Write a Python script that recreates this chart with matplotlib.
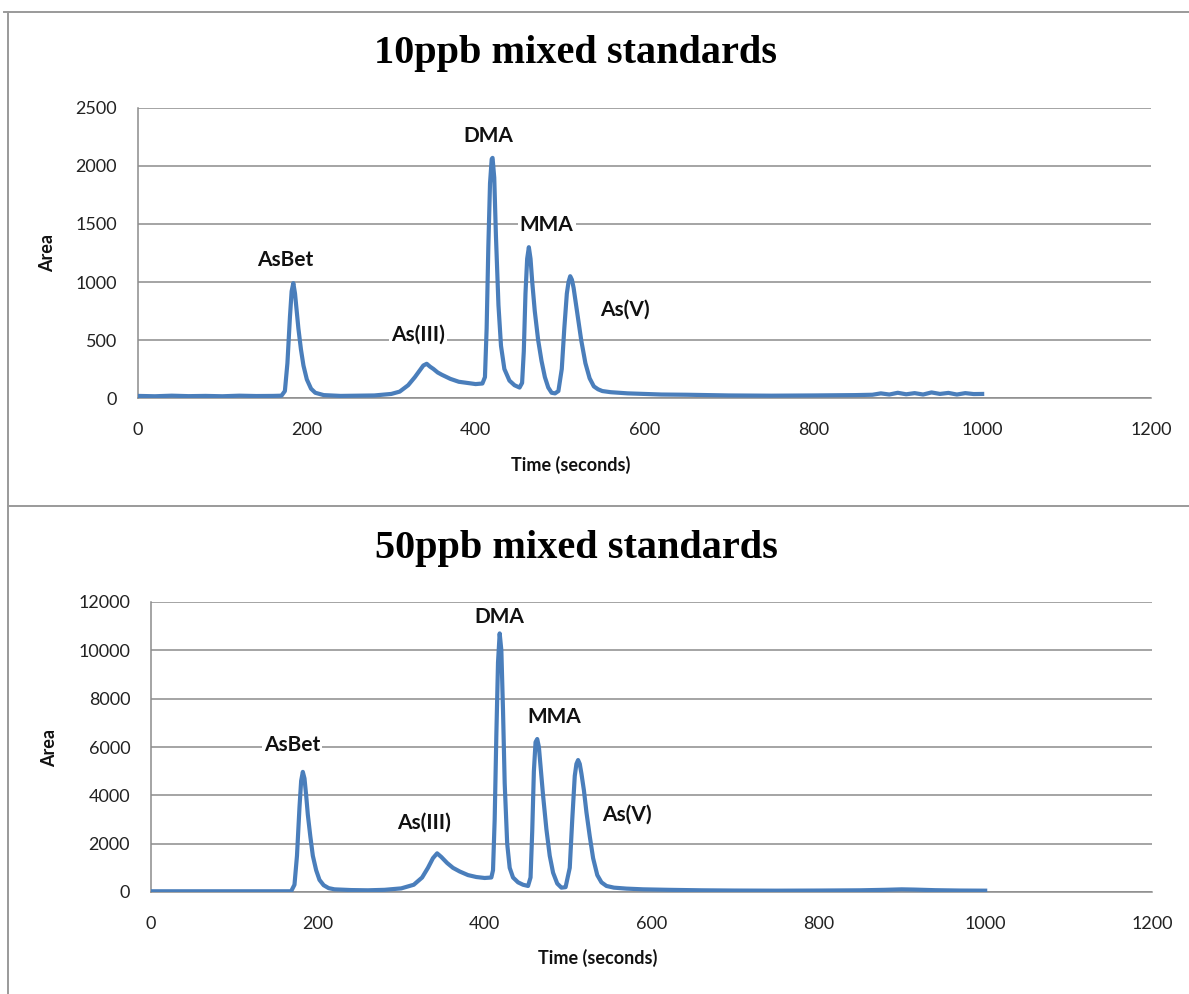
import matplotlib
matplotlib.use("Agg")
import matplotlib.pyplot as plt
from matplotlib.lines import Line2D

W, H = 1189, 994

# 10 ppb run
t10 = [0, 20, 40, 60, 80, 100, 120, 140, 160, 170, 174, 177, 180, 182, 184, 186, 188,
       190, 193, 196, 200, 205, 210, 220, 240, 260, 280, 300, 310, 320, 328, 334, 338,
       342, 346, 350, 355, 360, 370, 380, 390, 400, 408, 411, 413, 415, 417, 419, 420,
       422, 424, 427, 430, 434, 440, 446, 452, 455, 457, 459, 461, 463, 465, 467, 470,
       474, 478, 482, 486, 490, 494, 498, 502, 505, 508, 510, 512, 514, 516, 518, 521,
       525, 530, 535, 540, 545, 550, 560, 570, 580, 600, 620, 650, 700, 750, 800, 850,
       870, 880, 890, 900, 910, 920, 930, 940, 950, 960, 970, 980, 990, 1000]
area10 = [18, 15, 20, 16, 18, 15, 20, 17, 18, 20, 60, 300, 700, 920, 990, 900, 750,
          600, 420, 280, 160, 80, 45, 25, 18, 20, 22, 35, 55, 110, 180, 240, 280,
          295, 270, 250, 220, 200, 165, 140, 130, 120, 125, 180, 600, 1300, 1850, 2060, 2070,
          1900, 1400, 800, 450, 250, 150, 110, 90, 130, 400, 900, 1200, 1300, 1200, 1000, 750,
          500, 320, 180, 90, 45, 40, 60, 250, 600, 900, 1000, 1050, 1020, 950, 850, 700,
          500, 300, 170, 100, 75, 60, 50, 45, 40, 35, 30, 28, 22, 20, 22, 25,
          28, 40, 30, 45, 32, 42, 30, 48, 35, 44, 30, 42, 34, 35]

# 50 ppb run
t50 = [0, 50, 100, 150, 168, 172, 175, 178, 180, 182, 184, 186, 188, 191, 194, 198, 202,
       207, 213, 220, 240, 260, 280, 300, 315, 325, 332, 338, 343, 348, 355, 362, 370,
       380, 390, 400, 408, 410, 412, 414, 416, 418, 420, 422, 424, 427, 430, 434, 440,
       446, 452, 455, 457, 459, 461, 463, 465, 467, 470, 474, 478, 482, 487, 492, 497,
       502, 505, 508, 510, 512, 514, 516, 519, 522, 526, 530, 535, 540, 546, 555, 570,
       590, 620, 660, 700, 750, 800, 850, 880, 900, 915, 940, 970, 1000]
area50 = [30, 30, 30, 30, 30, 300, 1500, 3500, 4600, 4970, 4700, 4000, 3200, 2300, 1500, 900, 500,
          280, 160, 110, 80, 70, 90, 150, 300, 600, 1000, 1400, 1600, 1450, 1200, 1000, 850,
          700, 620, 580, 600, 900, 3000, 6500, 9500, 10700, 10000, 7500, 4500, 2000, 1000, 600, 400,
          300, 250, 600, 2500, 5000, 6200, 6330, 6000, 5200, 4000, 2600, 1500, 800, 350, 180, 200,
          1000, 3000, 4800, 5300, 5460, 5300, 4900, 4200, 3300, 2300, 1400, 700, 400, 250, 180, 140,
          110, 90, 70, 60, 55, 60, 70, 90, 110, 100, 75, 60, 55]

species = ["AsBet", "As(III)", "DMA", "MMA", "As(V)"]
# label anchor points (seconds, area)
lab10_t = [174, 332, 415, 484, 577]
lab10_a = [1190, 550, 2260, 1490, 760]
lab50_t = [169, 327, 418, 483, 571]
lab50_a = [6080, 2855, 11380, 7240, 3190]

blue = "#4A7EBB"
grid = "#8C8C8C"

plt.rcParams["font.family"] = ["Lato", "DejaVu Sans"]

fig = plt.figure(figsize=(W / 100, H / 100), dpi=100)


def fx(x):
    return x / W


def fy(y):
    return 1 - y / H


def panel(rect, t, a, ymax, ystep, lab_t, lab_a, title, title_base, xlab_x, xlab_y, area_x, area_y):
    ax = fig.add_axes(rect)
    ax.plot(t, a, color=blue, lw=3.0, solid_joinstyle="round", zorder=3)
    ax.set_xlim(0, 1200)
    ax.set_ylim(0, ymax)
    ax.set_xticks(range(0, 1201, 200))
    ax.set_yticks(range(0, ymax + 1, ystep))
    ax.grid(axis="y", color=grid, lw=1.1)
    ax.set_axisbelow(True)
    for s in ("top", "right"):
        ax.spines[s].set_visible(False)
    for s in ("left", "bottom"):
        ax.spines[s].set_color(grid)
        ax.spines[s].set_linewidth(1.1)
    ax.tick_params(length=0, labelsize=13, colors="#222222")
    ax.tick_params(axis="y", pad=15)
    ax.tick_params(axis="x", pad=17)
    for name, x, y in zip(species, lab_t, lab_a):
        ax.text(x, y, name, ha="center", va="center", fontsize=15, fontweight="bold",
                color="#111111", zorder=4,
                bbox=dict(facecolor="white", edgecolor="none", pad=1.5))
    fig.text(fx(576), fy(title_base), title, ha="center", va="baseline",
             family="Liberation Serif", fontweight="bold", fontsize=29)
    fig.text(fx(xlab_x), fy(xlab_y), "Time (seconds)", ha="center", va="center",
             fontsize=13, fontweight="bold", color="#111111")
    fig.text(fx(area_x), fy(area_y), "Area", ha="center", va="center", rotation=90,
             fontsize=13, fontweight="bold", color="#111111")
    return ax


panel([fx(138), fy(398), fx(1151 - 138), (398 - 108) / H], t10, area10, 2500, 500,
      lab10_t, lab10_a, "10ppb mixed standards", 63, 571, 465, 48, 253)
panel([fx(151), fy(892), fx(1152 - 151), (892 - 602) / H], t50, area50, 12000, 2000,
      lab50_t, lab50_a, "50ppb mixed standards", 558, 598, 958, 50, 748)

# outer frame and divider between the two charts
frame = "#9A9A9A"
for xs, ys in [((4, W), (12, 12)), ((8, 8), (12, H)), ((8, W), (506, 506))]:
    fig.add_artist(Line2D([fx(v) for v in xs], [fy(v) for v in ys], color=frame, lw=1.4))

fig.savefig("out.png", dpi=100, facecolor="white")
